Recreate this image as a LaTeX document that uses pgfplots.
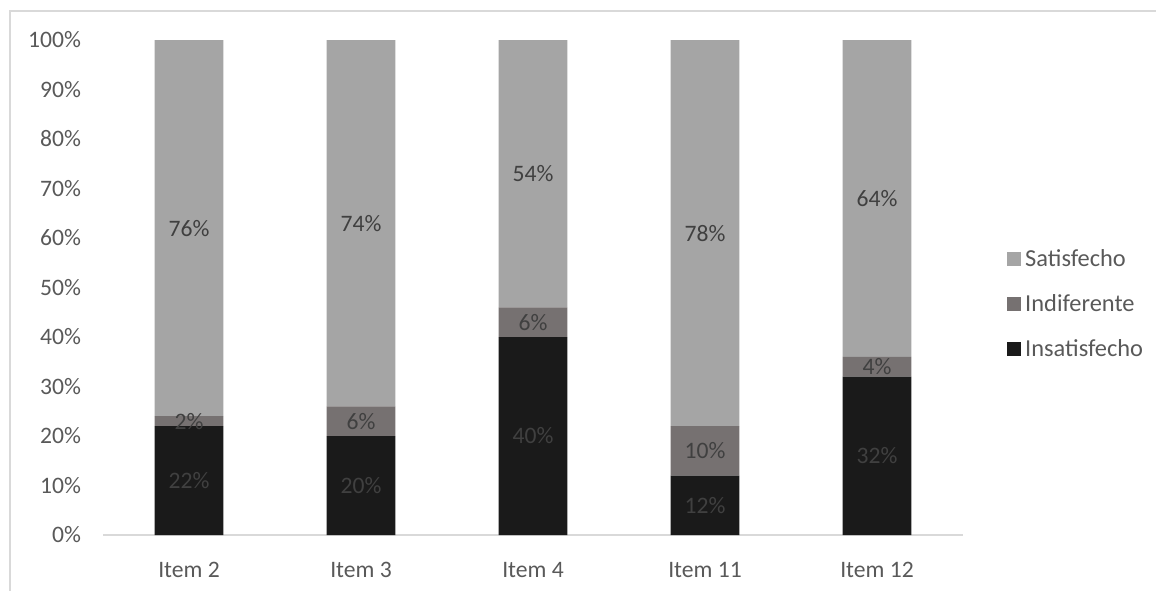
\documentclass[border=0pt]{standalone}
\usepackage{fontspec}
\setmainfont{Carlito}
\usepackage{pgfplots}
\pgfplotsset{compat=1.18}
\definecolor{sat}{HTML}{A5A5A5}
\definecolor{ind}{HTML}{767171}
\definecolor{ins}{HTML}{1A1A1A}
\definecolor{txt}{HTML}{595959}
\definecolor{lbl}{HTML}{404040}
\definecolor{brd}{HTML}{D9D9D9}
\begin{document}
\begin{tikzpicture}
\path[use as bounding box] (0,0) rectangle (578pt,-295pt);
\draw[brd, line width=0.6pt] (5pt,-300pt) -- (5pt,-5.5pt) -- (590pt,-5.5pt);
\pgfplotsset{
  base/.style={
    at={(51.5pt,-267.5pt)}, anchor=south west,
    scale only axis, width=430pt, height=247.5pt,
    xmin=-0.5, xmax=4.5, ymin=0, ymax=100,
  }
}
\begin{axis}[base,
  ybar stacked, bar width=0.4,
  axis y line=none,
  axis x line*=bottom,
  x axis line style={brd, line width=0.8pt},
  xtick={0,1,2,3,4},
  xticklabels={Item 2, Item 3, Item 4, Item 11, Item 12},
  major tick length=0pt,
  ytick={0,10,...,100},
  font=\fontsize{11.8}{13}\selectfont,
  xticklabel style={txt, anchor=base, yshift=-21pt},
  legend style={draw=none, fill=none, at={(rel axis cs:1.044,0.466)}, anchor=west,
    font=\fontsize{12.2}{13}\selectfont\color{txt},
    row sep=8.5pt},
  legend cell align=left,
  reverse legend,
  legend image code/.code={\fill[#1] (0pt,-3.5pt) rectangle (7pt,3.5pt);},
]
\addplot[fill=ins, draw=none] coordinates {(0,22) (1,20) (2,40) (3,12) (4,32)};
\addlegendentry{Insatisfecho}
\addplot[fill=ind, draw=none] coordinates {(0,2) (1,6) (2,6) (3,10) (4,4)};
\addlegendentry{Indiferente}
\addplot[fill=sat, draw=none] coordinates {(0,76) (1,74) (2,54) (3,78) (4,64)};
\addlegendentry{Satisfecho}
\end{axis}
\begin{axis}[base,
  axis x line=none,
  axis y line*=left,
  y axis line style={draw=none},
  major tick length=0pt,
  ytick={0,10,...,100},
  yticklabel={\pgfmathprintnumber{\tick}\%},
  yticklabel style={txt, xshift=-7.5pt},
  font=\fontsize{11.8}{13}\selectfont,
  /pgf/number format/assume math mode=true,
]
\addplot[draw=none, mark=none, nodes near coords, point meta=explicit symbolic,
  nodes near coords align=center,
  every node near coord/.append style={lbl, font=\fontsize{11.8}{13}\selectfont}]
  table[meta=lab] {
x y lab
0 11 22\%
1 10 20\%
2 20 40\%
3 6 12\%
4 16 32\%
0 23 2\%
1 23 6\%
2 43 6\%
3 17 10\%
4 34 4\%
0 62 76\%
1 63 74\%
2 73 54\%
3 61 78\%
4 68 64\%
};
\end{axis}
\end{tikzpicture}
\end{document}
